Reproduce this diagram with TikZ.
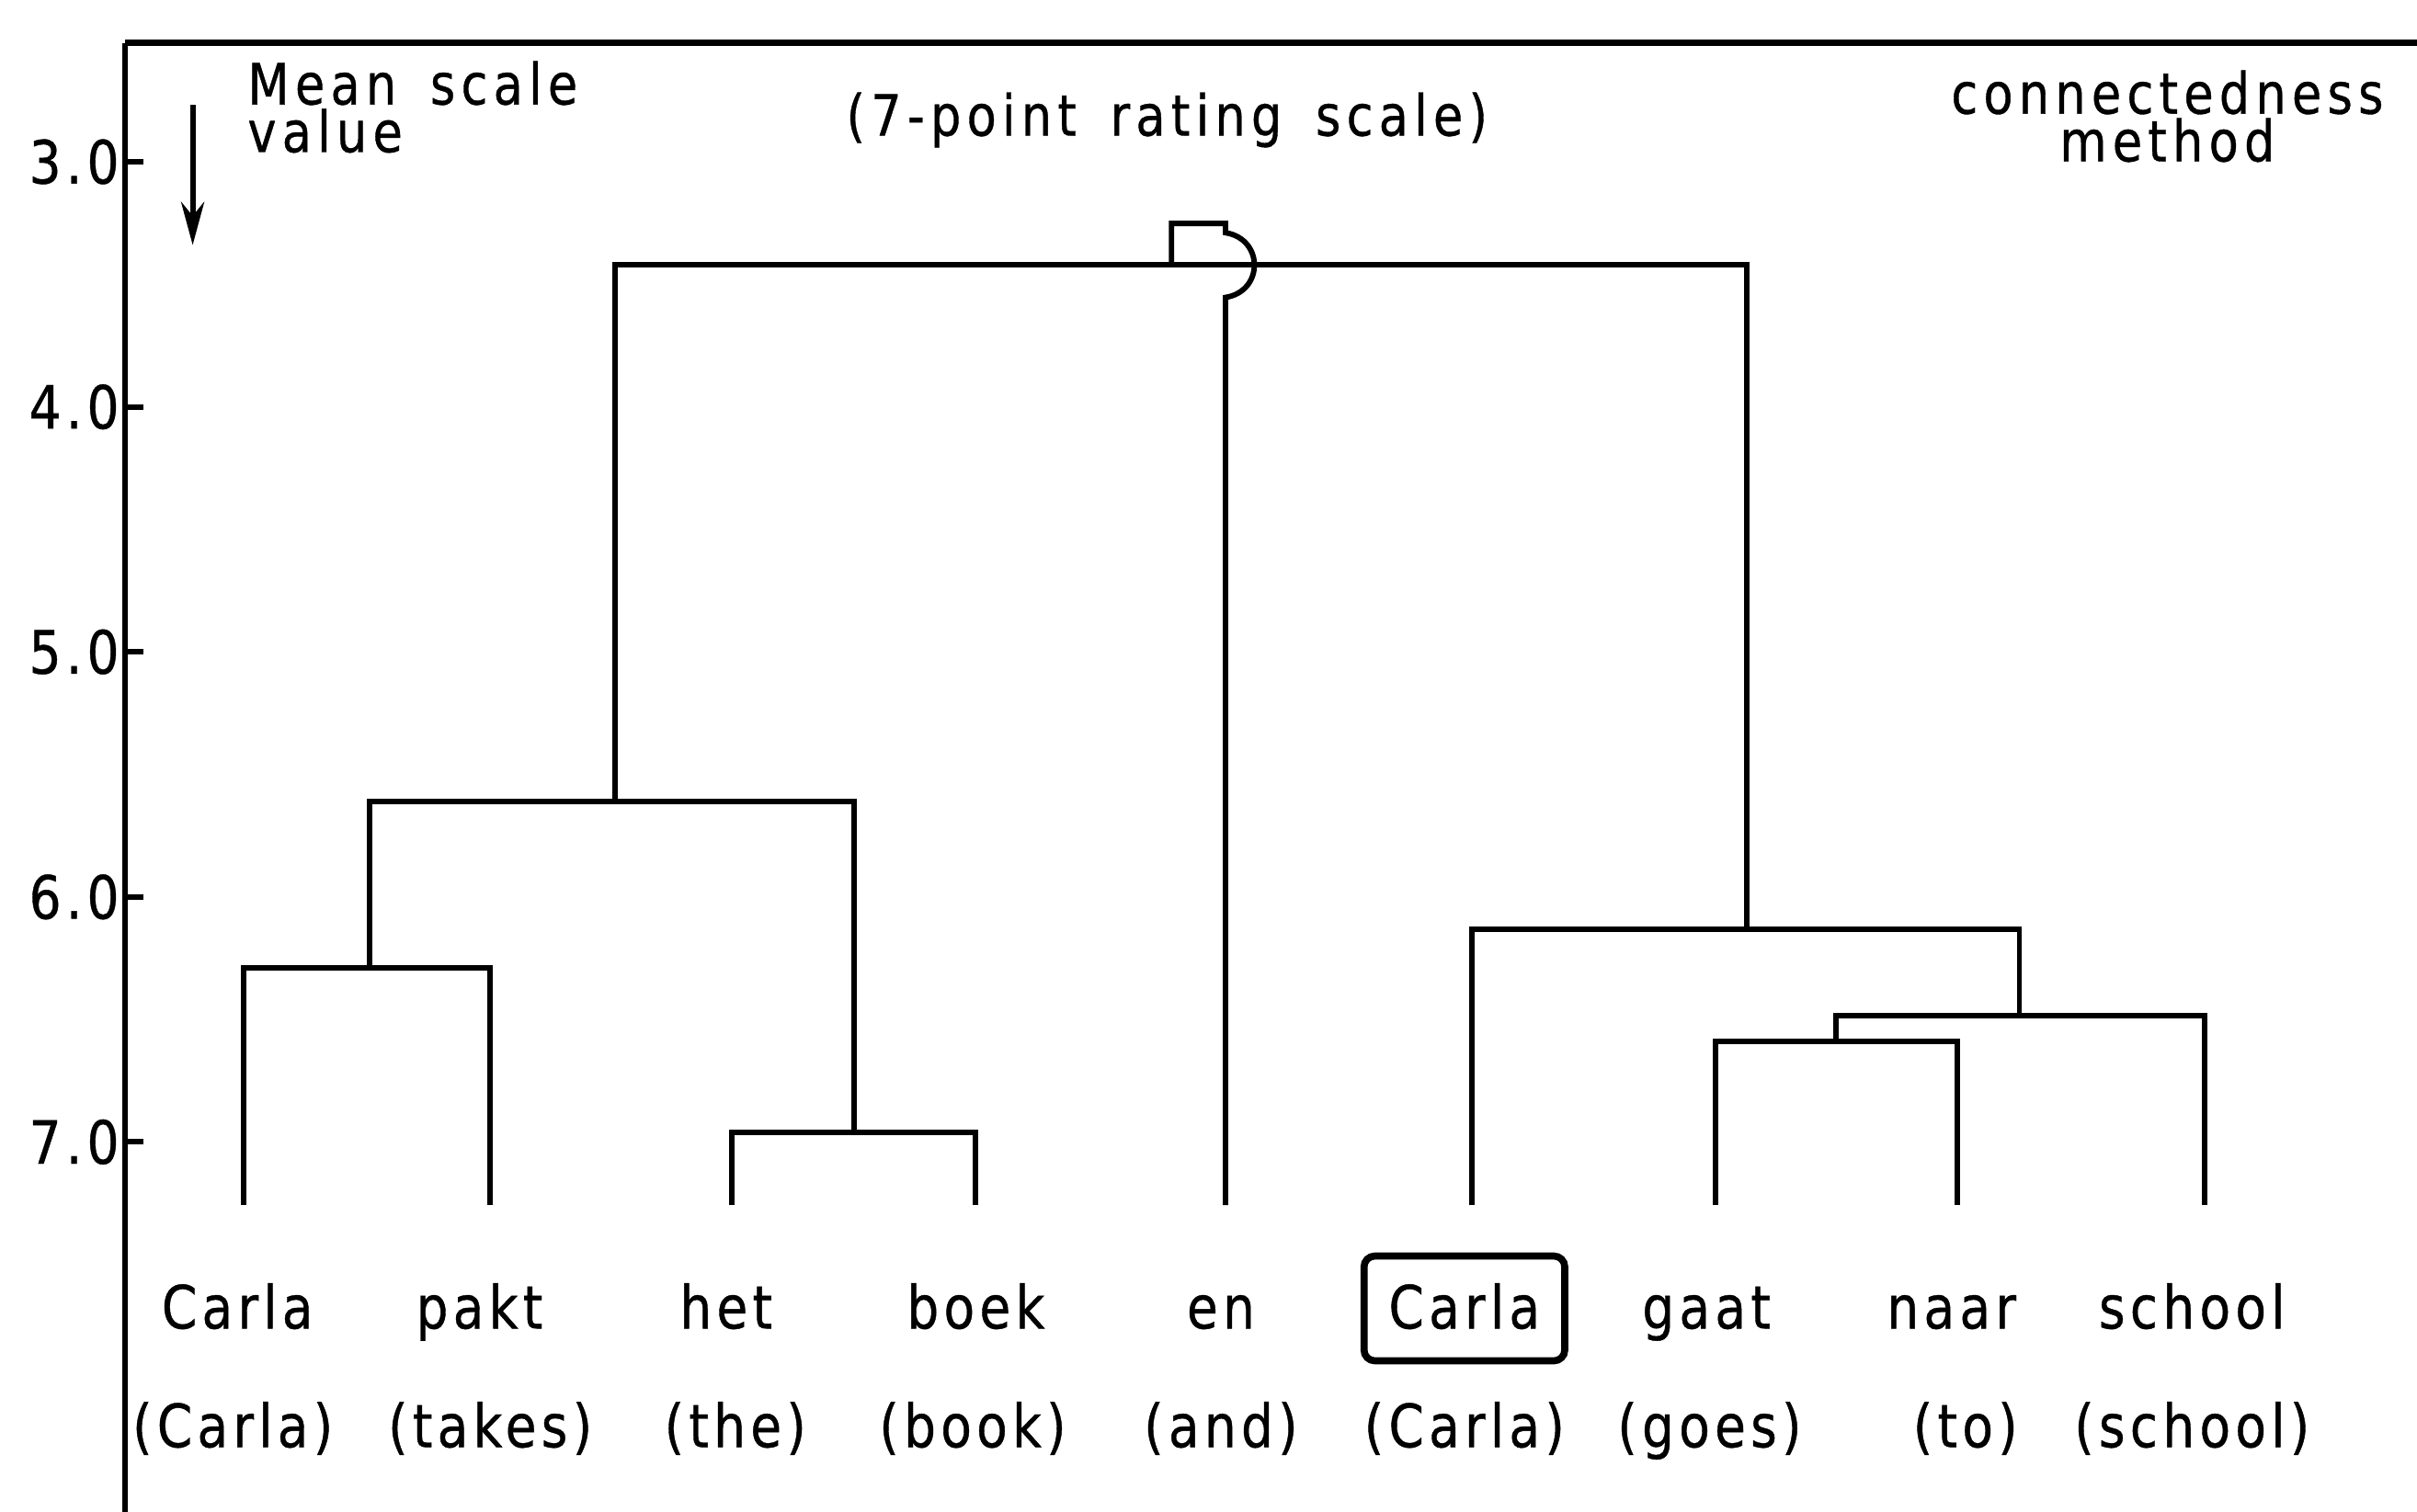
\documentclass[tikz,border=0pt]{standalone}
\usepackage{fontspec}
\setmainfont{DejaVu Sans}
\newfontfamily\wordfont{DejaVu Sans}[LetterSpace=8,FakeStretch=0.85,FakeBold=0.6]
\newfontfamily\headfont{DejaVu Sans}[LetterSpace=10,WordSpace=1.6,FakeStretch=0.85,FakeBold=0.6]
\usetikzlibrary{arrows.meta}
\tikzset{
  word/.style={font=\wordfont\fontsize{11}{13}\selectfont, inner sep=0pt, anchor=base},
  head/.style={font=\headfont\fontsize{10.5}{12}\selectfont, inner sep=0pt},
  ticklabel/.style={font=\wordfont\fontsize{11}{13}\selectfont, inner sep=0pt, anchor=east},
  boxed/.style={draw, line width=1.3pt, rounded corners=2pt, inner xsep=0.16cm, inner ysep=0.18cm, text height=0.29cm, text depth=0.03cm},
  link/.style={line width=1pt}
}
\begin{document}
\begin{tikzpicture}
\useasboundingbox (0,0) rectangle (15.68,-9.81);

\draw[line width=1.2pt] (15.68,-0.28) -- (0.81,-0.28);
\draw[link] (0.81,-0.28) -- (0.81,-9.81);

\draw[link] (0.81,-1.05) -- (0.93,-1.05);
\draw[link] (0.81,-2.64) -- (0.93,-2.64);
\draw[link] (0.81,-4.23) -- (0.93,-4.23);
\draw[link] (0.81,-5.82) -- (0.93,-5.82);
\draw[link] (0.81,-7.41) -- (0.93,-7.41);
\node[ticklabel] (v3) at (0.78,-1.05) {3.0};
\node[ticklabel] (v4) at (0.78,-2.64) {4.0};
\node[ticklabel] (v5) at (0.78,-4.23) {5.0};
\node[ticklabel] (v6) at (0.78,-5.82) {6.0};
\node[ticklabel] (v7) at (0.78,-7.41) {7.0};

\draw[-{Stealth[length=0.28cm,width=0.15cm]}, line width=1pt] (1.25,-0.68) -- (1.25,-1.59);
\node[head, anchor=north west, align=left] (scalelabel) at (1.60,-0.39) {Mean scale\\[-3.2pt]value};
\node[head, anchor=base] (title) at (7.57,-0.88) {(7-point rating scale)};
\node[head, anchor=north, align=center] (method) at (14.06,-0.45) {connectedness\\[-3.2pt]method};

\node[word] (w1) at (1.54,-8.62) {Carla};
\node[word] (w2) at (3.11,-8.62) {pakt};
\node[word] (w3) at (4.71,-8.62) {het};
\node[word] (w4) at (6.33,-8.62) {boek};
\node[word] (w5) at (7.92,-8.62) {en};
\node[word, boxed] (w6) at (9.50,-8.62) {Carla};
\node[word] (w7) at (11.07,-8.62) {gaat};
\node[word] (w8) at (12.66,-8.62) {naar};
\node[word] (w9) at (14.22,-8.62) {school};

\node[word] (t1) at (1.51,-9.39) {(Carla)};
\node[word] (t2) at (3.18,-9.39) {(takes)};
\node[word] (t3) at (4.77,-9.39) {(the)};
\node[word] (t4) at (6.31,-9.39) {(book)};
\node[word] (t5) at (7.92,-9.39) {(and)};
\node[word] (t6) at (9.50,-9.39) {(Carla)};
\node[word] (t7) at (11.09,-9.39) {(goes)};
\node[word] (t8) at (12.75,-9.39) {(to)};
\node[word] (t9) at (14.22,-9.39) {(school)};

\coordinate (l1) at (1.58,-7.82);
\coordinate (l2) at (3.18,-7.82);
\coordinate (l3) at (4.75,-7.82);
\coordinate (l4) at (6.33,-7.82);
\coordinate (l5) at (7.95,-7.82);
\coordinate (l6) at (9.55,-7.82);
\coordinate (l7) at (11.13,-7.82);
\coordinate (l8) at (12.70,-7.82);
\coordinate (l9) at (14.30,-7.82);

\coordinate (m1) at (2.40,-6.28);
\coordinate (m2) at (5.54,-7.35);
\coordinate (m3) at (3.99,-5.20);
\coordinate (m4) at (11.91,-6.76);
\coordinate (m5) at (13.10,-6.59);
\coordinate (m6) at (11.33,-6.03);
\coordinate (m7) at (7.60,-1.72);
\coordinate (entop) at (7.95,-1.45);
\coordinate (hopa) at (7.95,-1.51);
\coordinate (hopb) at (7.95,-1.93);

\draw[link] (l1) |- (m1) -| (l2);
\draw[link] (l3) |- (m2) -| (l4);
\draw[link] (m1) |- (m3) -| (m2);
\draw[link] (l7) |- (m4) -| (l8);
\draw[link] (m4) |- (m5) -| (l9);
\draw[link] (l6) |- (m6) -| (m5);
\draw[link] (m3) |- (m7) -| (m6);
\draw[link] (m7) |- (entop) -- (hopa) .. controls (8.20,-1.55) and (8.20,-1.89) .. (hopb) -- (l5);

\end{tikzpicture}
\end{document}
